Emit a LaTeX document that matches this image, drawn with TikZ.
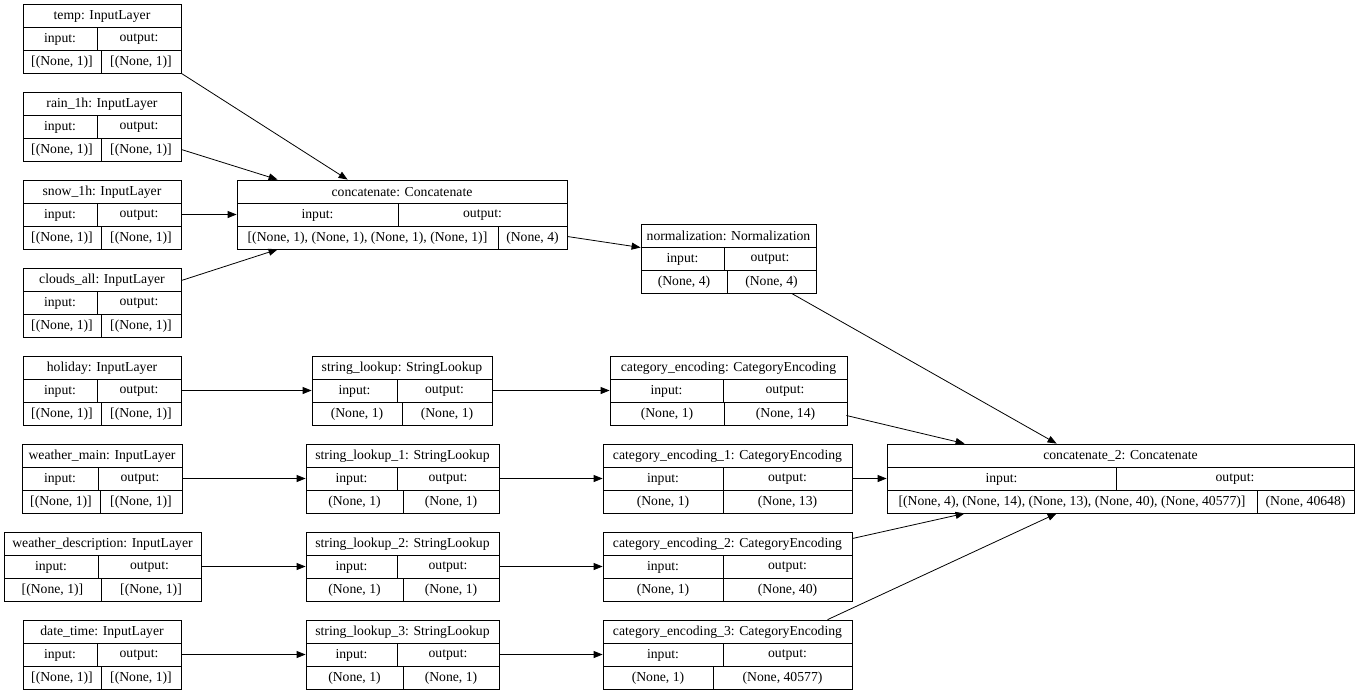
\documentclass[tikz,border=0pt]{standalone}
\usepackage{fontspec}
\setmainfont{Liberation Serif}
\usetikzlibrary{arrows.meta,calc}
\tikzset{
  layerbox/.style={draw=black, line width=0.8pt, inner sep=0pt, rectangle},
  cell/.style={draw=black, line width=0.8pt},
  txt/.style={inner sep=0pt, font=\fontsize{13.7}{16}\selectfont},
  edge/.style={draw=black, line width=0.8pt, -{Triangle[length=9pt,width=7pt]}}
}
% id, x1, y1, x2, split row2, split row3, title, input value, output value
\newcommand{\klayer}[9]{%
  \pgfmathsetmacro{\kw}{#4-#2}%
  \node[layerbox, minimum width=\kw pt, minimum height=69pt] (#1) at ({(#2+#4)/2},{#3+34.5}) {};
  \draw[cell] (#2,#3+23) -- (#4,#3+23) (#2,#3+46) -- (#4,#3+46)
              (#5,#3+23) -- (#5,#3+46) (#6,#3+46) -- (#6,#3+69);
  \node[txt] (#1-t) at ({(#2+#4)/2},{#3+12.3}) {#7};
  \node[txt] (#1-i) at ({(#2+#5)/2},{#3+35.3}) {input:};
  \node[txt] (#1-o) at ({(#5+#4)/2},{#3+35.3}) {output:};
  \node[txt] (#1-iv) at ({(#2+#6)/2},{#3+58.3}) {#8};
  \node[txt] (#1-ov) at ({(#6+#4)/2},{#3+58.3}) {#9};
}
\begin{document}
\begin{tikzpicture}[x=1pt,y=-1pt]
\useasboundingbox[fill=white] (0,0) rectangle (1358,694);
% input layers
\klayer{temp}{23}{4}{181}{97}{101}{temp: InputLayer}{[(None, 1)]}{[(None, 1)]}
\klayer{rain}{23}{92}{181}{97}{101}{rain\_1h: InputLayer}{[(None, 1)]}{[(None, 1)]}
\klayer{snow}{23}{180}{181}{97}{101}{snow\_1h: InputLayer}{[(None, 1)]}{[(None, 1)]}
\klayer{clouds}{23}{268}{181}{97}{101}{clouds\_all: InputLayer}{[(None, 1)]}{[(None, 1)]}
\klayer{holiday}{23}{356}{181}{97}{101}{holiday: InputLayer}{[(None, 1)]}{[(None, 1)]}
\klayer{wmain}{22}{444}{182}{98}{100}{weather\_main: InputLayer}{[(None, 1)]}{[(None, 1)]}
\klayer{wdesc}{4}{532}{201}{98}{101}{weather\_description: InputLayer}{[(None, 1)]}{[(None, 1)]}
\klayer{dtime}{23}{620}{181}{97}{101}{date\_time: InputLayer}{[(None, 1)]}{[(None, 1)]}
% concatenate
\klayer{concat}{237}{180}{567}{398}{498}{concatenate: Concatenate}{[(None, 1), (None, 1), (None, 1), (None, 1)]}{(None, 4)}
\klayer{norm}{641}{224}{816}{724}{727}{normalization: Normalization}{(None, 4)}{(None, 4)}
% string lookups
\klayer{slA}{312}{356}{492}{397}{402}{string\_lookup: StringLookup}{(None, 1)}{(None, 1)}
\klayer{slB}{306}{444}{499}{397}{403}{string\_lookup\_1: StringLookup}{(None, 1)}{(None, 1)}
\klayer{slC}{306}{532}{499}{397}{403}{string\_lookup\_2: StringLookup}{(None, 1)}{(None, 1)}
\klayer{slD}{306}{620}{499}{397}{403}{string\_lookup\_3: StringLookup}{(None, 1)}{(None, 1)}
% category encodings
\klayer{ceA}{610}{356}{847}{723}{724}{category\_encoding: CategoryEncoding}{(None, 1)}{(None, 14)}
\klayer{ceB}{603}{444}{852}{723}{723}{category\_encoding\_1: CategoryEncoding}{(None, 1)}{(None, 13)}
\klayer{ceC}{603}{532}{852}{723}{723}{category\_encoding\_2: CategoryEncoding}{(None, 1)}{(None, 40)}
\klayer{ceD}{603}{620}{852}{723}{713}{category\_encoding\_3: CategoryEncoding}{(None, 1)}{(None, 40577)}
% final concatenate
\klayer{concatb}{887}{444}{1354}{1116}{1257}{concatenate\_2: Concatenate}{[(None, 4), (None, 14), (None, 13), (None, 40), (None, 40577)]}{(None, 40648)}
% edges
\draw[edge] (temp.south east) -- ($(concat.north west)+(111,0)$);
\draw[edge] ($(rain.east)+(0,23)$) -- ($(concat.north west)+(41,0)$);
\draw[edge] (snow.east) -- (concat.west);
\draw[edge] ($(clouds.east)+(0,-22)$) -- ($(concat.south west)+(41,0)$);
\draw[edge] ($(concat.east)+(0,22)$) -- ($(norm.west)+(0,-11)$);
\draw[edge] (holiday.east) -- (slA.west);
\draw[edge] (wmain.east) -- (slB.west);
\draw[edge] (wdesc.east) -- (slC.west);
\draw[edge] (dtime.east) -- (slD.west);
\draw[edge] (slA.east) -- (ceA.west);
\draw[edge] (slB.east) -- (ceB.west);
\draw[edge] (slC.east) -- (ceC.west);
\draw[edge] (slD.east) -- (ceD.west);
\draw[edge] ($(norm.south west)+(151,0)$) -- ($(concatb.north west)+(170,0)$);
\draw[edge] ($(ceA.east)+(-1,25)$) -- ($(concatb.north west)+(78,0)$);
\draw[edge] (ceB.east) -- (concatb.west);
\draw[edge] ($(ceC.east)+(0,-28)$) -- ($(concatb.south west)+(78,0)$);
\draw[edge] ($(ceD.north west)+(225,0)$) -- ($(concatb.south west)+(170,0)$);
\end{tikzpicture}
\end{document}
